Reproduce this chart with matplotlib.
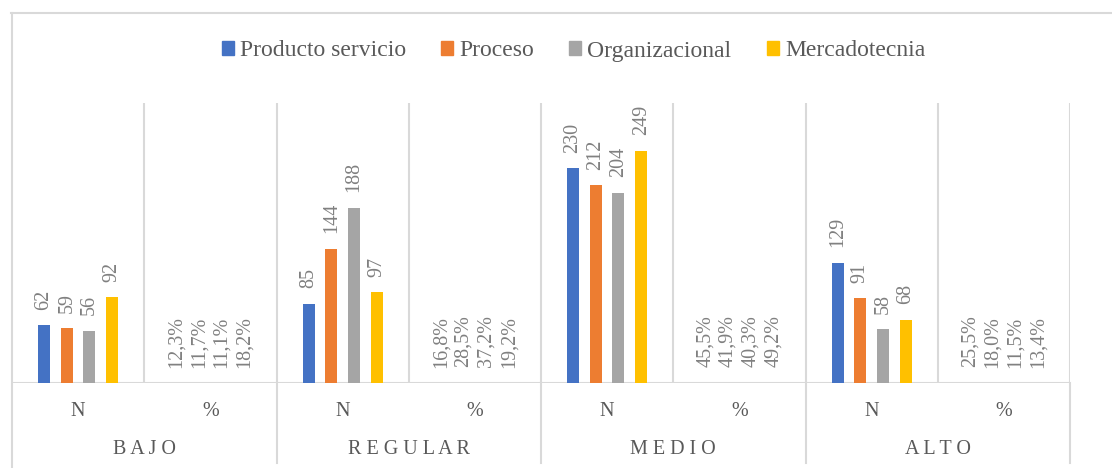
import matplotlib
matplotlib.use("Agg")
import matplotlib.pyplot as plt
import matplotlib.patches as mpatches
from matplotlib.lines import Line2D
import matplotlib.transforms as mtransforms
import numpy as np

plt.rcParams["font.family"] = ["Liberation Serif", "DejaVu Serif"]

# ── Data ──────────────────────────────────────────────────────────────────────
niveles = ["BAJO", "REGULAR", "MEDIO", "ALTO"]
columnas = ["N", "%"]
series = ["Producto servicio", "Proceso", "Organizacional", "Mercadotecnia"]

n_producto = [62, 85, 230, 129]
n_proceso = [59, 144, 212, 91]
n_organizacional = [56, 188, 204, 58]
n_mercadotecnia = [92, 97, 249, 68]

pct_producto = [12.3, 16.8, 45.5, 25.5]
pct_proceso = [11.7, 28.5, 41.9, 18.0]
pct_organizacional = [11.1, 37.2, 40.3, 11.5]
pct_mercadotecnia = [18.2, 19.2, 49.2, 13.4]

COLORS = ["#4472C4", "#ED7D31", "#A5A5A5", "#FFC000"]
GRID = "#D9D9D9"
TXT = "#595959"
LBL = "#808080"

n_vals = [n_producto, n_proceso, n_organizacional, n_mercadotecnia]
pct_vals = [pct_producto, pct_proceso, pct_organizacional, pct_mercadotecnia]

# ── Figure ────────────────────────────────────────────────────────────────────
W, H = 1112, 468
fig = plt.figure(figsize=(W / 100, H / 100), dpi=100)
fig.patch.set_facecolor("white")

x_left, x_right, y_top, y_base = 12, 1070, 103, 383
ax = fig.add_axes([x_left / W, 1 - y_base / H, (x_right - x_left) / W, (y_base - y_top) / H])

n_cat = len(niveles) * len(columnas)
x = np.arange(n_cat)
pitch, width = 0.1716, 0.091

for i, name in enumerate(series):
    # N column holds counts, % column holds the share (as a fraction, so its bar is flat)
    heights, labels = [], []
    for g in range(len(niveles)):
        heights += [n_vals[i][g], pct_vals[i][g] / 100]
        labels += [f"{n_vals[i][g]}", f"{pct_vals[i][g]:.1f}%".replace(".", ",")]
    bars = ax.bar(x + (i - 1.5) * pitch, heights, width, color=COLORS[i], label=name, zorder=3)
    ax.bar_label(bars, labels=labels, rotation=90, padding=11, color=LBL, fontsize=14.5)

ax.set_xlim(-0.5, n_cat - 0.5)
ax.set_ylim(0, 300)
ax.axis("off")

# category gridlines and baseline
for b in np.arange(0.5, n_cat, 1.0):
    ax.axvline(b, color=GRID, lw=1.5, zorder=1)
ax.axhline(0, color=GRID, lw=1.5, zorder=1)

# two-level category axis below the plot
trans = mtransforms.blended_transform_factory(ax.transData, ax.transAxes)
ph = y_base - y_top
row1 = -(411 - y_base) / ph
row2 = -(449 - y_base) / ph
bottom = -(463 - y_base) / ph
for g, nivel in enumerate(niveles):
    for c, col in enumerate(columnas):
        ax.text(2 * g + c, row1, col, transform=trans, ha="center", va="center",
                color=TXT, fontsize=14.5)
    ax.text(2 * g + 0.5, row2, " ".join(nivel), transform=trans, ha="center",
            va="center", color=TXT, fontsize=14.5)
for b in np.arange(1.5, n_cat, 2.0):
    ax.add_line(Line2D([b, b], [0, bottom], transform=trans, color=GRID, lw=1.5,
                       clip_on=False))

# chart frame (top and left edges)
fig.add_artist(Line2D([11 / W, 1], [1 - 13 / H] * 2, color=GRID, lw=1.5))
fig.add_artist(Line2D([11.5 / W] * 2, [0, 1 - 13 / H], color=GRID, lw=1.5))

handles = [mpatches.Patch(color=c, label=s) for c, s in zip(COLORS, series)]
fig.legend(handles=handles, loc="center", bbox_to_anchor=(573.5 / W, 1 - 51 / H),
           ncol=4, frameon=False, fontsize=17, labelcolor=TXT,
           handlelength=0.5, handleheight=0.5, handletextpad=0.26,
           columnspacing=1.5, borderpad=0)

fig.savefig("out.png", dpi=100, facecolor="white")
